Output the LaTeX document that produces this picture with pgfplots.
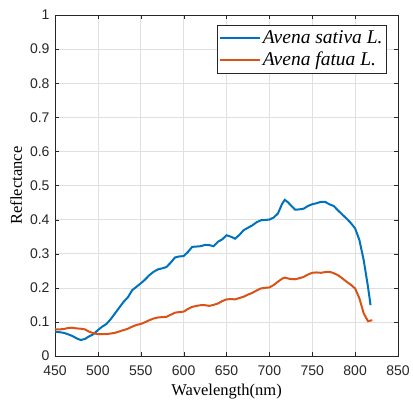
\documentclass[border=0pt]{standalone}
\usepackage{fontspec}
\setmainfont{Liberation Serif}
\setsansfont{Liberation Sans}
\usepackage{pgfplots}
\pgfplotsset{compat=1.18}
\definecolor{mblue}{RGB}{0,114,189}
\definecolor{morange}{RGB}{217,83,25}
\definecolor{axgray}{RGB}{38,38,38}

\begin{document}
\begin{tikzpicture}
\useasboundingbox (-55pt,-44pt) rectangle (358pt,356pt);
\begin{axis}[
  scale only axis,
  width=343pt, height=341pt,
  xmin=450, xmax=850, ymin=0, ymax=1,
  xtick={450,500,...,850},
  ytick={0,0.1,...,1},
  yticklabels={0,0.1,0.2,0.3,0.4,0.5,0.6,0.7,0.8,0.9,1},
  tick align=inside,
  tick pos=both,
  major tick length=4pt,
  grid=major,
  major grid style={color=black!12, line width=0.5pt},
  axis line style={axgray, line width=0.6pt},
  tick style={axgray},
  /pgf/number format/assume math mode=true,
  tick label style={font=\sffamily\fontsize{14}{16}\selectfont, text=axgray},
  xticklabel style={yshift=-6pt},
  yticklabel style={xshift=-2pt},
  label style={font=\fontsize{16.5}{18}\selectfont},
  xlabel={Wavelength(nm)},
  ylabel={Reflectance},
  xlabel style={yshift=-2pt},
  ylabel style={yshift=1pt},
  legend style={at={(axis cs:837,0.971)}, anchor=north east, draw=axgray,
    font=\itshape\fontsize{19.5}{21}\selectfont, inner sep=2pt,
    nodes={inner ysep=3.5pt}, row sep=0pt, line width=0.6pt},
  legend cell align=left,
  legend image code/.code={\draw[#1, line width=2pt] (0pt,0pt) -- (40pt,0pt);},
]
\addplot[mblue, line width=2pt] coordinates {
  (450,0.071) (455,0.070) (460,0.068) (465,0.064) (470,0.059) (475,0.052)
  (480,0.047) (485,0.050) (490,0.058) (495,0.064) (500,0.076) (505,0.086)
  (510,0.094) (515,0.108) (520,0.125) (525,0.142) (530,0.159) (535,0.172)
  (540,0.193) (545,0.203) (550,0.213) (555,0.224) (560,0.237) (565,0.247)
  (570,0.254) (575,0.257) (580,0.261) (585,0.274) (590,0.289) (595,0.292)
  (600,0.293) (605,0.305) (610,0.320) (615,0.321) (620,0.322) (625,0.326)
  (630,0.325) (635,0.322) (640,0.335) (645,0.342) (650,0.354) (655,0.350)
  (660,0.344) (665,0.355) (670,0.369) (675,0.376) (680,0.383) (685,0.392)
  (690,0.398) (695,0.399) (700,0.400) (705,0.406) (710,0.418) (715,0.447)
  (718,0.458) (722,0.450) (725,0.442) (730,0.429) (735,0.430) (740,0.432)
  (745,0.440) (750,0.445) (755,0.448) (760,0.452) (765,0.452) (770,0.445)
  (775,0.440) (780,0.427) (785,0.415) (790,0.403) (795,0.390) (800,0.374)
  (805,0.340) (810,0.281) (815,0.203) (818,0.149)
};
\addlegendentry{Avena sativa L.}
\addplot[morange, line width=2pt] coordinates {
  (450,0.078) (455,0.078) (460,0.079) (465,0.082) (470,0.083) (475,0.081)
  (480,0.080) (485,0.078) (490,0.071) (495,0.067) (500,0.064) (505,0.064)
  (510,0.064) (515,0.066) (520,0.068) (525,0.072) (530,0.076) (535,0.080)
  (540,0.086) (545,0.091) (550,0.094) (555,0.099) (560,0.105) (565,0.110)
  (570,0.113) (575,0.114) (580,0.115) (585,0.121) (590,0.127) (595,0.129)
  (600,0.130) (605,0.138) (610,0.144) (615,0.147) (620,0.149) (625,0.149)
  (630,0.147) (635,0.150) (640,0.154) (645,0.161) (650,0.166) (655,0.167)
  (660,0.166) (665,0.170) (670,0.174) (675,0.180) (680,0.185) (685,0.192)
  (690,0.198) (695,0.200) (700,0.201) (705,0.208) (710,0.218) (715,0.227)
  (718,0.230) (724,0.226) (730,0.225) (735,0.228) (740,0.232) (745,0.239)
  (750,0.244) (755,0.245) (760,0.244) (765,0.246) (770,0.247) (775,0.243)
  (780,0.237) (785,0.228) (790,0.218) (795,0.209) (800,0.198) (805,0.169)
  (810,0.125) (815,0.102) (820,0.105)
};
\addlegendentry{Avena fatua L.}
\end{axis}
\end{tikzpicture}
\end{document}
